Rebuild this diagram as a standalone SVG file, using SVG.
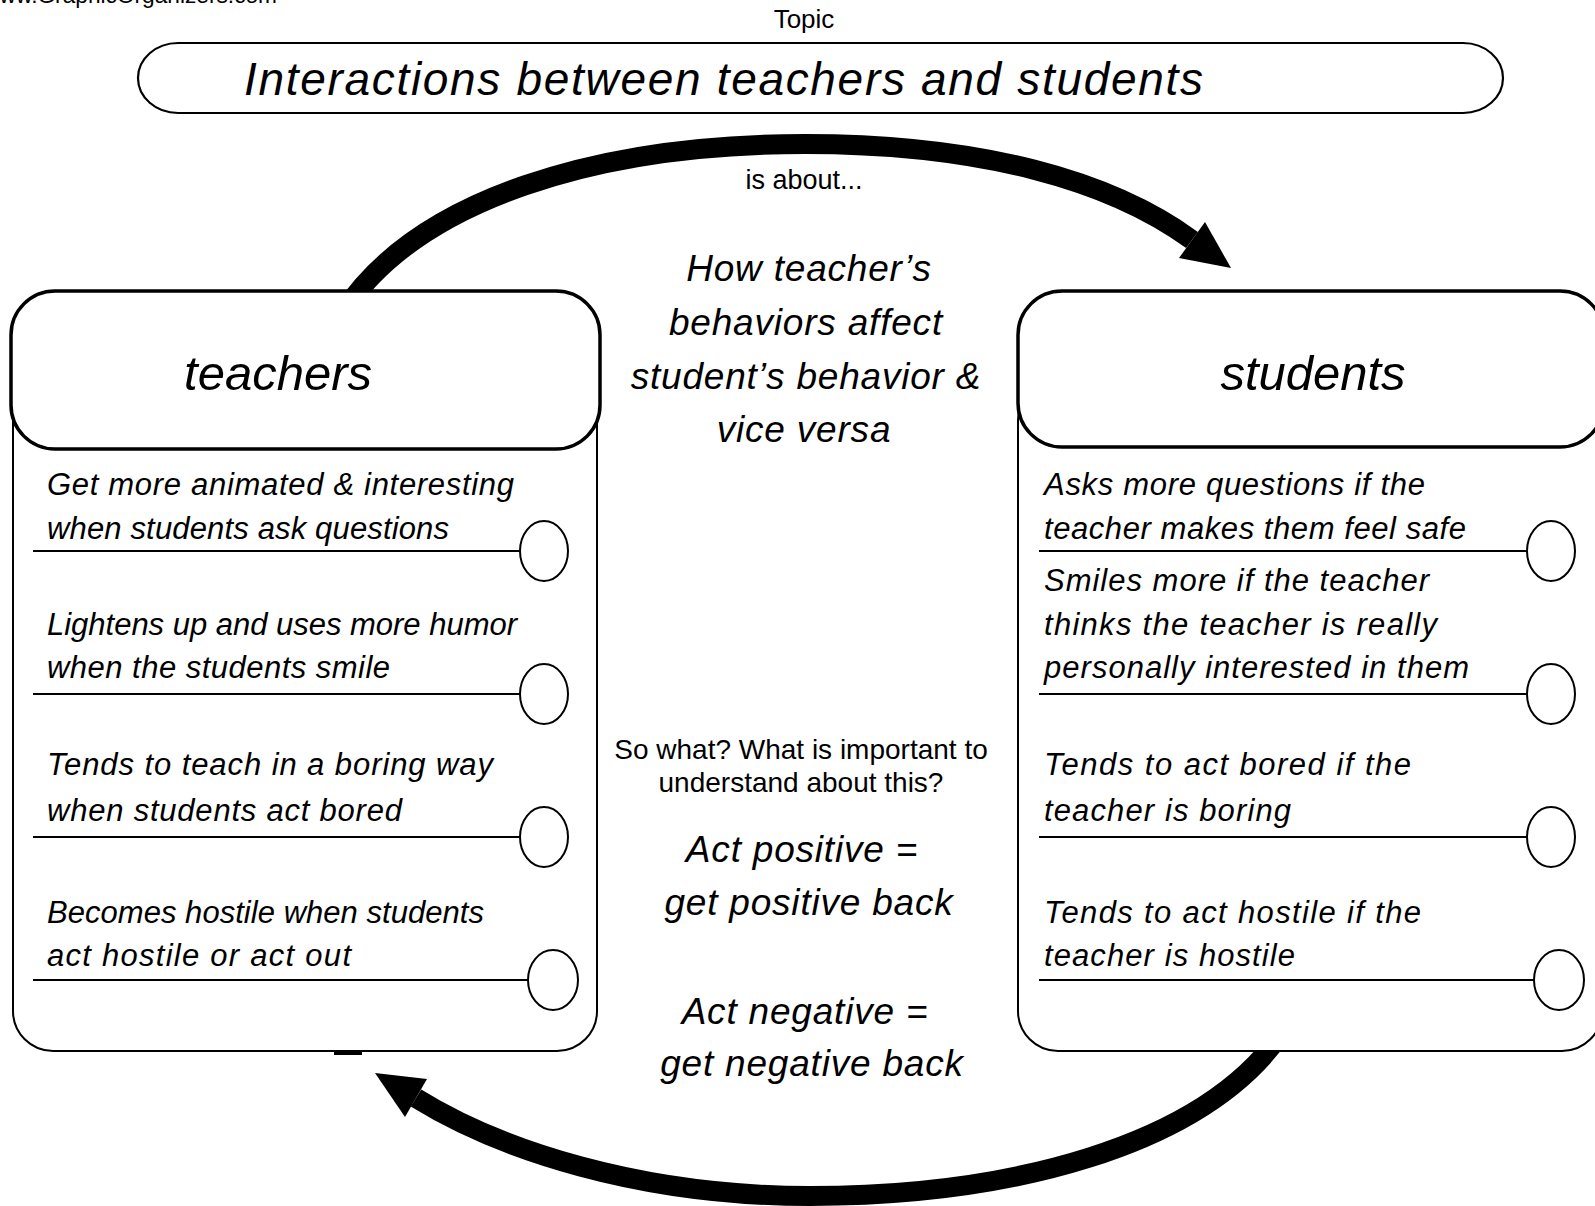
<svg xmlns="http://www.w3.org/2000/svg" width="1595" height="1206" viewBox="0 0 1595 1206">
<defs>
<style>
text { font-family: "Liberation Sans", Arial, sans-serif; fill: #000; }
.it { font-style: italic; }
.item { font-style: italic; font-size: 31px; }
.mid { font-style: italic; font-size: 37px; text-anchor: middle; letter-spacing: 0.8px; }
.plain { text-anchor: middle; }
.hdr { fill: #fff; stroke: #000; stroke-width: 3.5; }
.body { fill: #fff; stroke: #000; stroke-width: 2; }
.rule { stroke: #000; stroke-width: 2.2; }
.dot { fill: #fff; stroke: #000; stroke-width: 2; }
.arc { fill: none; stroke: #000; stroke-width: 20; }
</style>
</defs>
<rect width="1595" height="1206" fill="#fff"/>

<text x="277" y="3" font-size="22.7" text-anchor="end">www.GraphicOrganizers.com</text>
<text class="plain" x="804" y="28" font-size="26">Topic</text>

<g id="topic">
<rect x="138" y="43" width="1365" height="70" rx="40" ry="35" fill="#fff" stroke="#000" stroke-width="2.2"/>
<text class="it" x="244" y="95" font-size="46" textLength="959" lengthAdjust="spacing">Interactions between teachers and students</text>
</g>

<g id="connectors">
<path class="arc" d="M 343 312 C 418 198, 600 144, 805 144 C 980 144, 1110 180, 1192 240"/>
<polygon points="1231,268 1205,222 1179,258" fill="#000"/>
<path class="arc" d="M 1285 1028 C 1205 1150, 1000 1196, 810 1196 C 640 1196, 500 1150, 416 1098"/>
<polygon points="375,1073 427,1079 405,1117" fill="#000"/>
</g>

<g id="teachers">
<rect class="body" x="13" y="380" width="584" height="671" rx="40"/>
<rect x="334" y="1051" width="28" height="4" fill="#000"/>
<rect class="hdr" x="11" y="291" width="589" height="158" rx="44"/>
<text class="it" x="278" y="390" font-size="49" text-anchor="middle">teachers</text>
</g>

<g id="teachers-items">
<text class="item" x="47" y="495" textLength="467" lengthAdjust="spacing">Get more animated &amp; interesting</text>
<text class="item" x="47" y="539" textLength="402" lengthAdjust="spacing">when students ask questions</text>
<line class="rule" x1="33" y1="551" x2="521" y2="551"/>
<ellipse class="dot" cx="544" cy="551" rx="24" ry="30"/>
<text class="item" x="47" y="635" textLength="470" lengthAdjust="spacing">Lightens up and uses more humor</text>
<text class="item" x="47" y="678" textLength="343" lengthAdjust="spacing">when the students smile</text>
<line class="rule" x1="33" y1="694" x2="521" y2="694"/>
<ellipse class="dot" cx="544" cy="694" rx="24" ry="30"/>
<text class="item" x="47" y="775" textLength="446" lengthAdjust="spacing">Tends to teach in a boring way</text>
<text class="item" x="47" y="821" textLength="355" lengthAdjust="spacing">when students act bored</text>
<line class="rule" x1="33" y1="837" x2="521" y2="837"/>
<ellipse class="dot" cx="544" cy="837" rx="24" ry="30"/>
<text class="item" x="47" y="923" textLength="437" lengthAdjust="spacing">Becomes hostile when students</text>
<text class="item" x="47" y="966" textLength="304" lengthAdjust="spacing">act hostile or act out</text>
<line class="rule" x1="33" y1="980" x2="528" y2="980"/>
<ellipse class="dot" cx="553" cy="980" rx="25" ry="30"/>
</g>

<g id="students">
<rect class="body" x="1018" y="380" width="584" height="671" rx="40"/>
<rect class="hdr" x="1018" y="291" width="586" height="156" rx="44"/>
<text class="it" x="1313" y="390" font-size="49" text-anchor="middle">students</text>
</g>

<g id="students-items">
<text class="item" x="1044" y="495" textLength="381" lengthAdjust="spacing">Asks more questions if the</text>
<text class="item" x="1044" y="539" textLength="422" lengthAdjust="spacing">teacher makes them feel safe</text>
<line class="rule" x1="1039" y1="551" x2="1527" y2="551"/>
<ellipse class="dot" cx="1551" cy="551" rx="24" ry="30"/>
<text class="item" x="1044" y="591" textLength="385" lengthAdjust="spacing">Smiles more if the teacher</text>
<text class="item" x="1044" y="635" textLength="393" lengthAdjust="spacing">thinks the teacher is really</text>
<text class="item" x="1044" y="678" textLength="425" lengthAdjust="spacing">personally interested in them</text>
<line class="rule" x1="1039" y1="694" x2="1527" y2="694"/>
<ellipse class="dot" cx="1551" cy="694" rx="24" ry="30"/>
<text class="item" x="1044" y="775" textLength="367" lengthAdjust="spacing">Tends to act bored if the</text>
<text class="item" x="1044" y="821" textLength="247" lengthAdjust="spacing">teacher is boring</text>
<line class="rule" x1="1039" y1="837" x2="1527" y2="837"/>
<ellipse class="dot" cx="1551" cy="837" rx="24" ry="30"/>
<text class="item" x="1044" y="923" textLength="377" lengthAdjust="spacing">Tends to act hostile if the</text>
<text class="item" x="1044" y="966" textLength="251" lengthAdjust="spacing">teacher is hostile</text>
<line class="rule" x1="1039" y1="980" x2="1534" y2="980"/>
<ellipse class="dot" cx="1559" cy="980" rx="25" ry="30"/>
</g>

<g id="center">
<text class="plain" x="804" y="189" font-size="27">is about...</text>
<text class="mid" x="809" y="281">How teacher’s</text>
<text class="mid" x="806" y="335">behaviors affect</text>
<text class="mid" x="806" y="389">student’s behavior &amp;</text>
<text class="mid" x="804" y="442">vice versa</text>
<text class="plain" x="801" y="759" font-size="28">So what? What is important to</text>
<text class="plain" x="801" y="792" font-size="28">understand about this?</text>
<text class="mid" x="802" y="862" font-size="38">Act positive =</text>
<text class="mid" x="809" y="915" font-size="38">get positive back</text>
<text class="mid" x="805" y="1024" font-size="38">Act negative =</text>
<text class="mid" x="812" y="1076" font-size="38">get negative back</text>
</g>
</svg>
